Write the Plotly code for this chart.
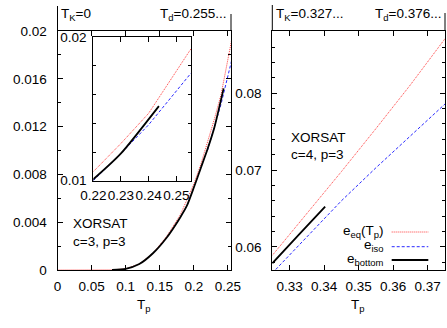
import plotly.graph_objects as go

# left panel, XORSAT c=3 p=3
eq3_x = [0.0, 0.05, 0.08, 0.10, 0.12, 0.14, 0.16, 0.18, 0.20, 0.21, 0.22, 0.23, 0.24, 0.2553]
eq3_y = [0.0, 0.0, 0.00001, 0.0001, 0.0005, 0.0014, 0.0028, 0.0046, 0.0072, 0.0088, 0.01063, 0.0126, 0.0147, 0.0192]
iso3_x = [0.22, 0.23, 0.24, 0.2553]
iso3_y = [0.0100, 0.0119, 0.0139, 0.0175]
bot3_x = [0.08, 0.10, 0.12, 0.14, 0.16, 0.18, 0.19, 0.20, 0.21, 0.22, 0.23, 0.2437]
bot3_y = [0.0, 0.0001, 0.0005, 0.0014, 0.0027, 0.0044, 0.0054, 0.0069, 0.0085, 0.0101, 0.0119, 0.0152]

# right panel, XORSAT c=4 p=3
eq4_x = [0.325, 0.335, 0.345, 0.355, 0.365, 0.375]
eq4_y = [0.0589, 0.0643, 0.0698, 0.0754, 0.0811, 0.0871]
iso4_x = [0.325, 0.335, 0.345, 0.355, 0.365, 0.375]
iso4_y = [0.0566, 0.0613, 0.0660, 0.0703, 0.0745, 0.0786]
bot4_x = [0.325, 0.3325, 0.3403]
bot4_y = [0.05787, 0.0615, 0.06524]

left_yticks = [0, 0.004, 0.008, 0.012, 0.016, 0.02]
left_ytext = ["0", "0.004", "0.008", "0.012", "0.016", "0.02"]
left_xticks = [0, 0.05, 0.1, 0.15, 0.2, 0.25]
left_xtext = ["0", "0.05", "0.1", "0.15", "0.2", "0.25"]
inset_xticks = [0.22, 0.23, 0.24, 0.25]
inset_yticks = [0.01, 0.02]
right_xticks = [0.33, 0.34, 0.35, 0.36, 0.37]
right_yticks = [0.06, 0.07, 0.08]

W, H = 447, 328
FONT = "Liberation Sans, Arial, sans-serif"
FS = 13.5
RED = "rgb(255,60,60)"
BLUE = "rgb(40,40,255)"


def px(x):
    return x / W


def py(y):
    return 1 - y / H


def add_set(fig, xs, ys, xa, ya):
    fig.add_trace(go.Scatter(x=xs[0], y=ys[0], mode="lines", xaxis=xa, yaxis=ya,
                             line=dict(color=RED, width=1, dash="1px,1px")))
    fig.add_trace(go.Scatter(x=xs[1], y=ys[1], mode="lines", xaxis=xa, yaxis=ya,
                             line=dict(color=BLUE, width=1, dash="3px,2px")))
    fig.add_trace(go.Scatter(x=xs[2], y=ys[2], mode="lines", xaxis=xa, yaxis=ya,
                             line=dict(color="black", width=1.8, shape="spline", smoothing=0.6)))


fig = go.Figure()
add_set(fig, [eq3_x, iso3_x, bot3_x], [eq3_y, iso3_y, bot3_y], "x", "y")
add_set(fig, [eq4_x, iso4_x, bot4_x], [eq4_y, iso4_y, bot4_y], "x2", "y2")
add_set(fig, [eq3_x, iso3_x, bot3_x], [eq3_y, iso3_y, bot3_y], "x3", "y3")

ax = dict(showline=True, linecolor="black", linewidth=1, mirror="ticks", ticks="inside",
          ticklen=5, tickcolor="black", showgrid=False, zeroline=False, automargin=False,
          tickangle=0, tickfont=dict(family=FONT, size=FS, color="black"))

fig.update_layout(
    width=W, height=H, margin=dict(l=0, r=0, t=0, b=0, autoexpand=False),
    paper_bgcolor="white", plot_bgcolor="white", showlegend=False,
    font=dict(family=FONT, size=FS, color="black"),
    xaxis=dict(ax, domain=[px(57.5), px(231)], range=[0, 0.2545], anchor="y",
               tickvals=left_xticks, ticktext=left_xtext, ticklabelstandoff=4),
    yaxis=dict(ax, domain=[py(270), py(31)], range=[0, 0.02], anchor="x",
               tickvals=left_yticks, ticktext=left_ytext, ticklabelstandoff=7,
               minor=dict(dtick=0.002, ticks="inside", ticklen=3, tickcolor="black")),
    xaxis2=dict(ax, domain=[px(272.3), px(445)], range=[0.325, 0.375], anchor="y2",
                tickvals=right_xticks, ticklabelstandoff=4),
    yaxis2=dict(ax, domain=[py(270), py(31)], range=[0.057, 0.0881], anchor="x2",
                tickvals=right_yticks, ticktext=["0.06", "0.07", "0.08"], ticklabelstandoff=7,
                minor=dict(dtick=0.002, tick0=0.06, ticks="inside", ticklen=3, tickcolor="black")),
    xaxis3=dict(ax, domain=[px(93.3), px(191)], range=[0.22, 0.2553], anchor="y3",
                tickvals=inset_xticks, ticklabelstandoff=2),
    yaxis3=dict(ax, domain=[py(180.7), py(37.3)], range=[0.01, 0.02], anchor="x3",
                tickvals=inset_yticks, ticktext=["0.01", "0.02"], ticklabelstandoff=3,
                minor=dict(dtick=0.002, ticks="inside", ticklen=3, tickcolor="black")),
)

# vertical markers for T_K and T_d above the panels
for x0, ytop in [(57.5, 6), (231, 14), (272.3, 5), (445, 13)]:
    fig.add_shape(type="line", xref="paper", yref="paper", x0=px(x0), x1=px(x0),
                  y0=py(31), y1=py(ytop), line=dict(color="black", width=1))

annots = [
    ("T<sub>K</sub>=0", 59, 14, "left"),
    ("T<sub>d</sub>=0.255...", 228, 14, "right"),
    ("T<sub>K</sub>=0.327...", 274, 14, "left"),
    ("T<sub>d</sub>=0.376...", 443, 14, "right"),
    ("XORSAT", 71, 223, "left"),
    ("c=3, p=3", 71, 241, "left"),
    ("XORSAT", 289, 137, "left"),
    ("c=4, p=3", 289, 154, "left"),
    ("T<sub>p</sub>", 144, 305, "center"),
    ("T<sub>p</sub>", 358, 305, "center"),
    ("e<sub>eq</sub>(T<sub>p</sub>)", 386, 231, "right"),
    ("e<sub>iso</sub>", 386, 245, "right"),
    ("e<sub>bottom</sub>", 386, 259, "right"),
]
for txt, x, y, al in annots:
    fig.add_annotation(text=txt, xref="paper", yref="paper", x=px(x), y=py(y),
                       xanchor=al, yanchor="middle", showarrow=False,
                       font=dict(family=FONT, size=FS, color="black"))

# legend samples
for y, col, dash, w in [(232, RED, "1px,1px", 1), (246.7, BLUE, "3px,2px", 1), (260, "black", "solid", 1.8)]:
    fig.add_shape(type="line", xref="paper", yref="paper", x0=px(391.7), x1=px(428.3),
                  y0=py(y), y1=py(y), line=dict(color=col, width=w, dash=dash))

# page body has a default 8px margin; drop it so the figure sits at the corner
fig.write_html("out.html", config={"displayModeBar": False},
               post_script="document.body.style.margin='0';")
